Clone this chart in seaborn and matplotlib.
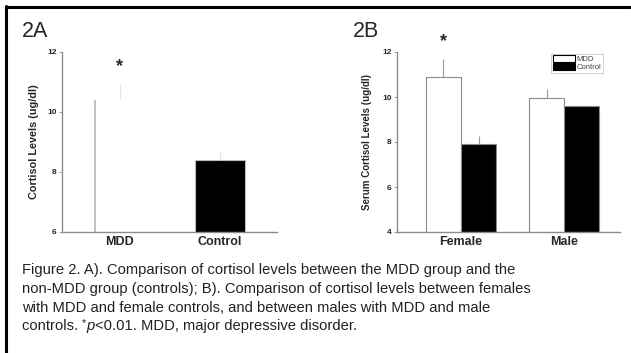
import numpy as np
import pandas as pd
import matplotlib
matplotlib.use("Agg")
import matplotlib.pyplot as plt
import seaborn as sns
from matplotlib.lines import Line2D

# values
groups_a = ["MDD", "Control"]
means_a = [10.4, 8.4]
upper_a = [10.95, 8.7]

sex_b = ["Female", "Female", "Male", "Male"]
group_b = ["MDD", "Control", "MDD", "Control"]
means_b = [10.9, 7.9, 9.95, 9.6]
upper_b = [11.7, 8.25, 10.35, 9.6]

caption_lines = [
    "Figure 2. A). Comparison of cortisol levels between the MDD group and the",
    "non-MDD group (controls); B). Comparison of cortisol levels between females",
    "with MDD and female controls, and between males with MDD and male",
]
caption_last = ["controls. ", "*", "p", "<0.01. MDD, major depressive disorder."]

sns.set_style("white")
plt.rcParams['font.family'] = ['Liberation Sans', 'DejaVu Sans']

W, H = 631, 353
fig = plt.figure(figsize=(W / 100, H / 100), dpi=100)

spine_col = "#8c8c8c"


def style_axes(ax, ylim, yticks):
    ax.set_ylim(*ylim)
    ax.set_yticks(yticks)
    ax.set_yticklabels([str(t) for t in yticks], fontsize=6, fontweight="bold")
    sns.despine(ax=ax)
    for s in ["left", "bottom"]:
        ax.spines[s].set_color(spine_col)
        ax.spines[s].set_linewidth(1.0)
    ax.tick_params(axis="y", length=2, width=0.6, color=spine_col, pad=2, left=True)
    ax.tick_params(axis="x", length=0, pad=3)
    for lab in ax.get_xticklabels():
        lab.set_fontsize(9)
        lab.set_fontweight("bold")
    ax.set_xlabel("")


# ---- panel A ----
df_a = pd.DataFrame({"group": groups_a, "mean": means_a})
ax1 = fig.add_axes([62 / W, 1 - 232 / H, 215 / W, 180 / H])
sns.barplot(data=df_a, x="group", y="mean", hue="group",
            palette=["white", "black"], width=0.5, ax=ax1,
            legend=False, edgecolor="none", linewidth=0)
ax1.set_xlim(-0.58, 1.57)
style_axes(ax1, (6, 12), [6, 8, 10, 12])
ax1.set_ylabel("Cortisol Levels (ug/dl)", fontsize=7.8, fontweight="bold", labelpad=6)
# MDD bar only shows a faint left edge; control bar has a thin gray edge
p_mdd = ax1.patches[0]
ax1.vlines(p_mdd.get_x(), 6, p_mdd.get_height(), color="#b5b5b5", lw=1.2)
ax1.patches[1].set_edgecolor("#bbbbbb")
ax1.patches[1].set_linewidth(0.8)
ax1.vlines(range(len(groups_a)), means_a, upper_a, color="#e6e6e6", lw=0.8)
ax1.text(0, 11.5, "*", ha="center", va="center", fontsize=13, fontweight="bold")

# ---- panel B ----
df_b = pd.DataFrame({"sex": sex_b, "group": group_b, "mean": means_b})
ax2 = fig.add_axes([397 / W, 1 - 232 / H, 223 / W, 180 / H])
sns.barplot(data=df_b, x="sex", y="mean", hue="group",
            palette=["white", "black"], width=0.68, gap=0, ax=ax2,
            edgecolor=spine_col, linewidth=0.8)
ax2.set_xlim(-0.62, 1.54)
style_axes(ax2, (4, 12), [4, 6, 8, 10, 12])
ax2.set_ylabel("Serum Cortisol Levels (ug/dl)", fontsize=7, fontweight="bold", labelpad=7)
bars = [p for p in ax2.patches if p.get_height() > 0][:4]
bars = sorted(bars, key=lambda p: p.get_x())
for p, top in zip(bars, upper_b):
    cx = p.get_x() + p.get_width() / 2
    ax2.vlines(cx, p.get_height(), top, color="#9a9a9a", lw=0.8)
cx0 = bars[0].get_x() + bars[0].get_width() / 2
ax2.text(cx0, 12.45, "*", ha="center", va="center", fontsize=13,
         fontweight="bold", clip_on=False)
leg = ax2.legend(loc="upper right", bbox_to_anchor=(0.93, 1.0), fontsize=5.5,
                 frameon=True, fancybox=False, handlelength=3.0, handleheight=1.0,
                 borderpad=0.2, labelspacing=0.0, handletextpad=0.15,
                 borderaxespad=0.2)
leg.get_frame().set_edgecolor("#bbbbbb")
leg.get_frame().set_linewidth(0.6)
for h in leg.legend_handles:
    h.set_edgecolor("black")
for t in leg.get_texts():
    t.set_color("#444444")

# panel labels
fig.text(22 / W, 1 - 37 / H, "2A", fontsize=15.5, va="baseline")
fig.text(353 / W, 1 - 37 / H, "2B", fontsize=15.5, va="baseline")

# caption, one line at a time
cap_kw = dict(fontsize=10.6, color="#222222", va="center", ha="left")
line_y = [270, 289, 307.5, 326]
for y, line in zip(line_y, caption_lines):
    fig.text(22 / W, 1 - y / H, line, **cap_kw)

fig.canvas.draw()
renderer = fig.canvas.get_renderer()
x_px = 22.0
y_last = line_y[3]
for piece in caption_last:
    kw = dict(cap_kw)
    yy = y_last
    if piece == "*":
        kw["fontsize"] = 7.5
        yy = y_last - 3
    if piece == "p":
        kw["style"] = "italic"
    t = fig.text(x_px / W, 1 - yy / H, piece, **kw)
    x_px += t.get_window_extent(renderer).width

# frame lines (top and left only)
fig.add_artist(Line2D([6 / W, 630 / W], [1 - 7 / H, 1 - 7 / H], color="black", lw=2.2,
                      transform=fig.transFigure))
fig.add_artist(Line2D([6 / W, 6 / W], [1 - 6 / H, 0], color="black", lw=2.2,
                      transform=fig.transFigure))

fig.savefig("out.png", dpi=100)
